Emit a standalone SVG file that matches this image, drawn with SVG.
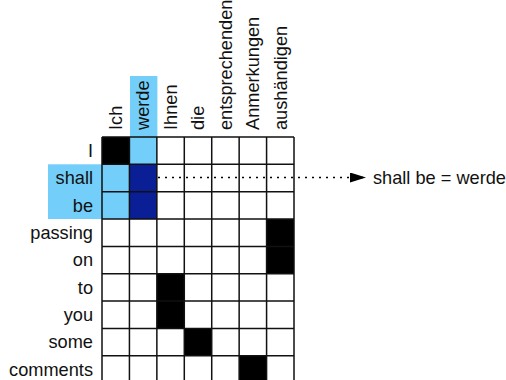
<svg xmlns="http://www.w3.org/2000/svg" width="506" height="380" viewBox="0 0 506 380">
<style>
text{font-family:"Liberation Sans",Arial,Helvetica,sans-serif;font-size:18.2px;fill:#111}
.rl{text-anchor:end}
.grid{stroke:#111;stroke-width:1.5;fill:none}
.blk{fill:#000}
.lb{fill:#73CFFA}
.db{fill:#0A1E96}
</style>
<defs>
<marker id="ah" viewBox="0 0 16 10" refX="16" refY="5" markerWidth="16" markerHeight="10" markerUnits="userSpaceOnUse" orient="auto">
<path d="M0,0 L16,5 L0,10 Z" fill="#000"/>
</marker>
</defs>
<rect width="506" height="380" fill="#fff"/>
<g id="highlights">
<rect class="lb" x="130" y="76" width="27.4" height="61"/>
<rect class="lb" x="48" y="164.3" width="54" height="54.7"/>
</g>
<g id="cells">
<rect class="blk" x="102" y="137" width="27.43" height="27.35"/>
<rect class="lb" x="129.43" y="137" width="27.43" height="27.35"/>
<rect class="lb" x="102" y="164.35" width="27.43" height="54.7"/>
<rect class="db" x="129.43" y="164.35" width="27.43" height="54.7"/>
<rect class="blk" x="266.58" y="219.05" width="27.43" height="54.7"/>
<rect class="blk" x="156.86" y="273.75" width="27.43" height="54.7"/>
<rect class="blk" x="184.29" y="328.45" width="27.43" height="27.35"/>
<rect class="blk" x="239.15" y="355.8" width="27.43" height="27.35"/>
</g>
<g id="grid" class="grid">
<path d="M102,137V383 M129.43,137V383 M156.86,137V383 M184.29,137V383 M211.72,137V383 M239.15,137V383 M266.58,137V383 M294,137V383"/>
<path d="M102,137H294 M102,164.35H294 M102,191.7H294 M102,219.05H294 M102,246.4H294 M102,273.75H294 M102,301.1H294 M102,328.45H294 M102,355.8H294"/>
</g>
<g id="columns">
<text transform="translate(122,130) rotate(-90)">Ich</text>
<text transform="translate(149.4,130) rotate(-90)">werde</text>
<text transform="translate(176.9,130) rotate(-90)">Ihnen</text>
<text transform="translate(204.3,130) rotate(-90)">die</text>
<text transform="translate(231.7,130) rotate(-90)">entsprechenden</text>
<text transform="translate(259.2,130) rotate(-90)">Anmerkungen</text>
<text transform="translate(286.6,130) rotate(-90)">aushändigen</text>
</g>
<g id="rows">
<text class="rl" x="93" y="157">I</text>
<text class="rl" x="93" y="184.3">shall</text>
<text class="rl" x="93" y="211.7">be</text>
<text class="rl" x="93" y="239">passing</text>
<text class="rl" x="93" y="266.4">on</text>
<text class="rl" x="93" y="293.7">to</text>
<text class="rl" x="93" y="321">you</text>
<text class="rl" x="93" y="348.4">some</text>
<text class="rl" x="93" y="375.8">comments</text>
</g>
<g id="connectors">
<line x1="158" y1="177.5" x2="366" y2="177.5" stroke="#000" stroke-width="1.5" stroke-dasharray="2,5" marker-end="url(#ah)"/>
</g>
<g id="annotation">
<text x="373" y="183.5">shall be = werde</text>
</g>
</svg>
